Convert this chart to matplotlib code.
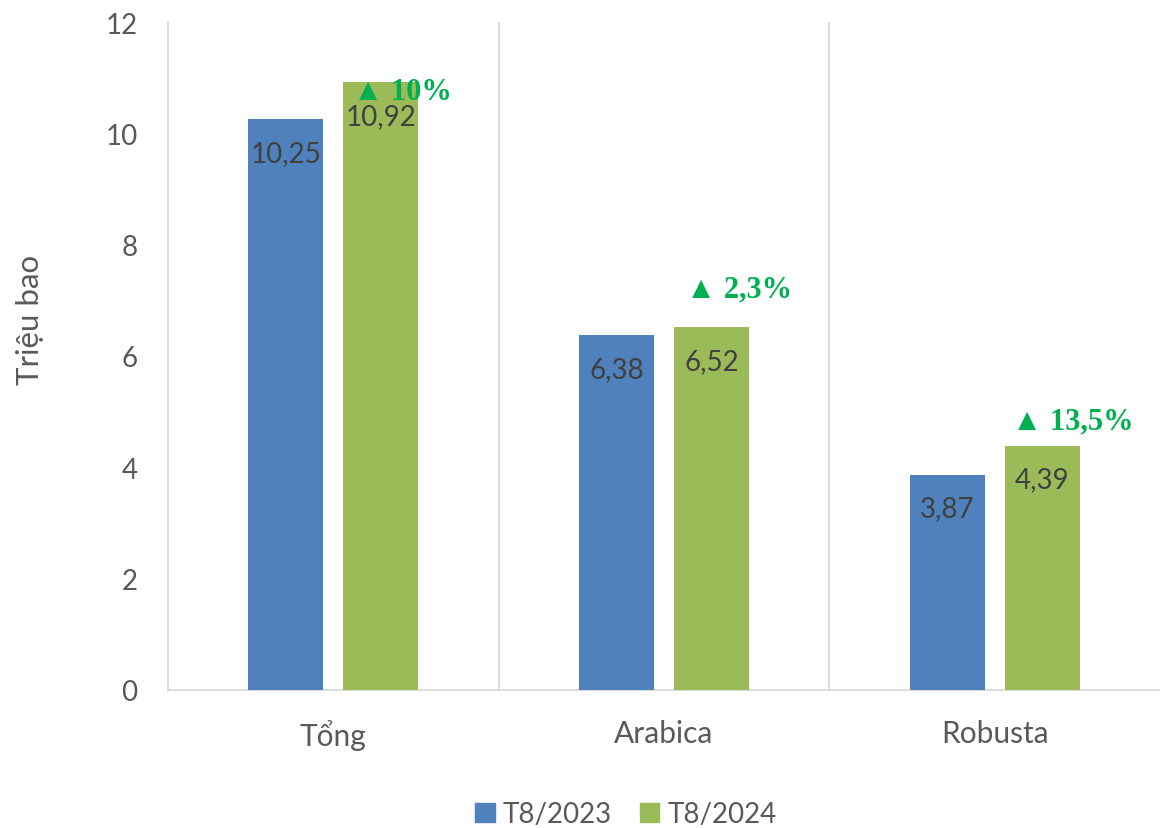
import matplotlib
matplotlib.use("Agg")
import matplotlib.pyplot as plt
from matplotlib.patches import Patch
import numpy as np

categories = ["Tổng", "Arabica", "Robusta"]
series_names = ["T8/2023", "T8/2024"]
values_2023 = [10.25, 6.38, 3.87]
values_2024 = [10.92, 6.52, 4.39]
value_labels_2023 = ["10,25", "6,38", "3,87"]
value_labels_2024 = ["10,92", "6,52", "4,39"]
change_labels = ["▲ 10%", "▲ 2,3%", "▲ 13,5%"]
change_pos = [(0.058, 10.76), (1.066, 7.20), (2.053, 4.83)]
yticks = [0, 2, 4, 6, 8, 10, 12]

plt.rcParams['font.family'] = ['Lato', 'DejaVu Sans']

c_blue = "#4F81BD"
c_green = "#9BBB59"
grid_c = "#D9D9D9"

fig = plt.figure(figsize=(11.6, 8.29), dpi=100)
ax = fig.add_axes([168/1160, 1-691/829, 1-168/1160, (691-23)/829])

x = np.arange(len(categories))
w = 0.227
off = 0.144
b1 = ax.bar(x - off, values_2023, w, color=c_blue, zorder=3)
b2 = ax.bar(x + off, values_2024, w, color=c_green, zorder=3)

for bars, labs in ((b1, value_labels_2023), (b2, value_labels_2024)):
    for r, lab in zip(bars, labs):
        ax.annotate(lab, (r.get_x() + r.get_width()/2, r.get_height()),
                    xytext=(0, -15), textcoords="offset points",
                    ha="center", va="top", fontsize=20, color="#404040", zorder=5)

for lab, (px, py) in zip(change_labels, change_pos):
    ax.text(px, py, lab, ha="left", va="center", fontsize=22, fontweight="bold",
            color="#00B050", family=['Liberation Serif', 'DejaVu Serif'], zorder=6)

ax.set_xlim(-0.5, 2.5)
ax.set_ylim(0, 12)
ax.set_yticks(yticks)
ax.set_yticklabels([str(t) for t in yticks])
ax.set_xticks(x)
ax.set_xticklabels(categories)
ax.tick_params(axis="y", length=0, pad=22, labelsize=20, labelcolor="#595959")
ax.tick_params(axis="x", length=0, pad=21, labelsize=21.5, labelcolor="#595959")

for xv in [0.5, 1.5]:
    ax.axvline(xv, color=grid_c, lw=1.3, zorder=1)

for s in ["top", "right"]:
    ax.spines[s].set_visible(False)
ax.spines["left"].set_color(grid_c)
ax.spines["left"].set_linewidth(1.3)
ax.spines["bottom"].set_color(grid_c)
ax.spines["bottom"].set_linewidth(1.3)

fig.text(30/1160, 1-320/829, "Triệu bao", rotation=90, ha="center", va="center",
         fontsize=22.5, color="#595959")

handles = [Patch(color=c_blue), Patch(color=c_green)]
leg = fig.legend(handles, series_names, loc="center", bbox_to_anchor=(626/1160, 1-815/829),
                 ncol=2, frameon=False, fontsize=20, handlelength=0.7, handleheight=0.7,
                 handletextpad=0.3, columnspacing=1.0, labelcolor="#595959")

fig.savefig("out.png", dpi=100)
